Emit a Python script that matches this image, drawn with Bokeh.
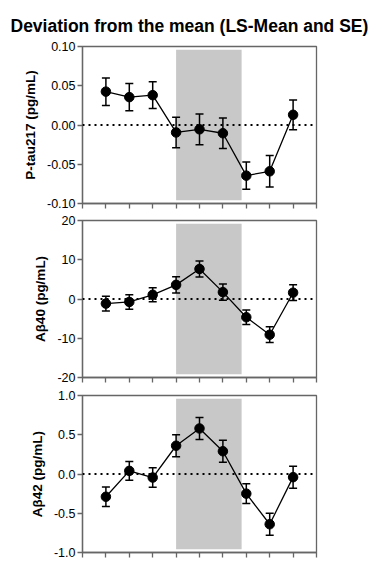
from bokeh.plotting import figure
from bokeh.models import (ColumnDataSource, Whisker, TeeHead, Span, BoxAnnotation,
                          Range1d, FixedTicker, PrintfTickFormatter, Title)
from bokeh.layouts import column
from bokeh.embed import file_html
from bokeh.resources import INLINE

# ---------------- data ----------------
timepoints = [1, 2, 3, 4, 5, 6, 7, 8, 9]
x_ticks = [0, 1, 2, 3, 4, 5, 6, 7, 8, 9, 10]
band_start = 4.0
band_end = 6.8

ptau_mean = [0.0425, 0.0355, 0.038, -0.0095, -0.0055, -0.0105, -0.0645, -0.059, 0.013]
ptau_se = [0.0175, 0.0175, 0.017, 0.0195, 0.0195, 0.0195, 0.0175, 0.020, 0.019]
ptau_ticks = [-0.10, -0.05, 0.0, 0.05, 0.10]

ab40_mean = [-1.175, -0.75, 1.075, 3.6, 7.65, 1.75, -4.65, -9.1, 1.6]
ab40_se = [1.9, 1.85, 1.8, 2.1, 2.05, 2.05, 1.85, 2.0, 2.0]
ab40_ticks = [-20, -10, 0, 10, 20]

ab42_mean = [-0.29, 0.04, -0.045, 0.36, 0.58, 0.29, -0.25, -0.64, -0.04]
ab42_se = [0.125, 0.12, 0.125, 0.14, 0.14, 0.14, 0.125, 0.14, 0.14]
ab42_ticks = [-1.0, -0.5, 0.0, 0.5, 1.0]

title_text = "Deviation from the mean (LS-Mean and SE)"

FONT = "Liberation Sans"
AXIS_COLOR = "#666666"


def make_panel(mean, se, ylabel, yticks, fmt, height, top, bottom, title=None):
    ylim = max(abs(t) for t in yticks)
    p = figure(width=370, height=height, output_backend="svg", toolbar_location=None,
               x_range=Range1d(0, 10), y_range=Range1d(-ylim, ylim),
               min_border_left=82, min_border_right=54,
               min_border_top=top, min_border_bottom=bottom)
    p.background_fill_color = "white"
    p.border_fill_color = "white"
    p.outline_line_color = AXIS_COLOR
    p.outline_line_width = 1.3
    p.xgrid.visible = False
    p.ygrid.visible = False

    if title is not None:
        p.title = Title(text=title, text_font=FONT, text_font_size="17.5px",
                        text_font_style="bold", align="left", text_color="black",
                        offset=-72, standoff=22)

    band = BoxAnnotation(left=band_start, right=band_end, bottom=-0.96 * ylim, top=0.96 * ylim,
                         fill_color="#c8c8c8", fill_alpha=1.0, line_color=None, level="underlay")
    p.add_layout(band)

    zero = Span(location=0, dimension="width", line_color="black", line_width=2,
                line_dash="2 4")
    p.add_layout(zero)

    upper = [m + s for m, s in zip(mean, se)]
    lower = [m - s for m, s in zip(mean, se)]
    src = ColumnDataSource(dict(x=timepoints, y=mean, upper=upper, lower=lower))

    w = Whisker(base="x", upper="upper", lower="lower", source=src,
                line_color="black", line_width=1.5,
                upper_head=TeeHead(size=8, line_color="black", line_width=1.5),
                lower_head=TeeHead(size=8, line_color="black", line_width=1.5))
    p.add_layout(w)

    p.line("x", "y", source=src, line_color="black", line_width=1.3)
    p.scatter("x", "y", source=src, size=9.5, fill_color="black", line_color="black")

    # x axis: ticks only
    xa = p.xaxis[0]
    xa.ticker = FixedTicker(ticks=x_ticks)
    xa.major_label_overrides = {t: "" for t in x_ticks}
    xa.major_label_text_font_size = "1px"
    xa.major_label_standoff = 0
    xa.major_tick_out = 5
    xa.major_tick_in = 0
    xa.minor_tick_line_color = None
    xa.axis_line_color = AXIS_COLOR
    xa.axis_line_width = 1.3
    xa.major_tick_line_color = AXIS_COLOR
    xa.major_tick_line_width = 1.3

    ya = p.yaxis[0]
    ya.ticker = FixedTicker(ticks=yticks)
    ya.formatter = PrintfTickFormatter(format=fmt)
    ya.major_tick_out = 5
    ya.major_tick_in = 0
    ya.minor_tick_line_color = None
    ya.axis_line_color = AXIS_COLOR
    ya.axis_line_width = 1.3
    ya.major_tick_line_color = AXIS_COLOR
    ya.major_tick_line_width = 1.3
    ya.major_label_text_font = FONT
    ya.major_label_text_font_size = "12.5px"
    ya.major_label_text_color = "black"
    ya.major_label_standoff = 2
    ya.axis_label = ylabel
    ya.axis_label_text_font = FONT
    ya.axis_label_text_font_size = "13.5px"
    ya.axis_label_text_font_style = "bold"
    ya.axis_label_text_color = "black"
    ya.axis_label_standoff = 6
    return p


p1 = make_panel(ptau_mean, ptau_se, "P-tau217 (pg/mL)", ptau_ticks, "%.2f", 212, 46, 9, title=title_text)
p2 = make_panel(ab40_mean, ab40_se, "Aβ40 (pg/mL)", ab40_ticks, "%d", 173, 8, 8)
p3 = make_panel(ab42_mean, ab42_se, "Aβ42 (pg/mL)", ab42_ticks, "%.1f", 175, 10, 8)

layout = column(p1, p2, p3, spacing=0)

with open("out.html", "w") as f:
    f.write(file_html(layout, INLINE))
